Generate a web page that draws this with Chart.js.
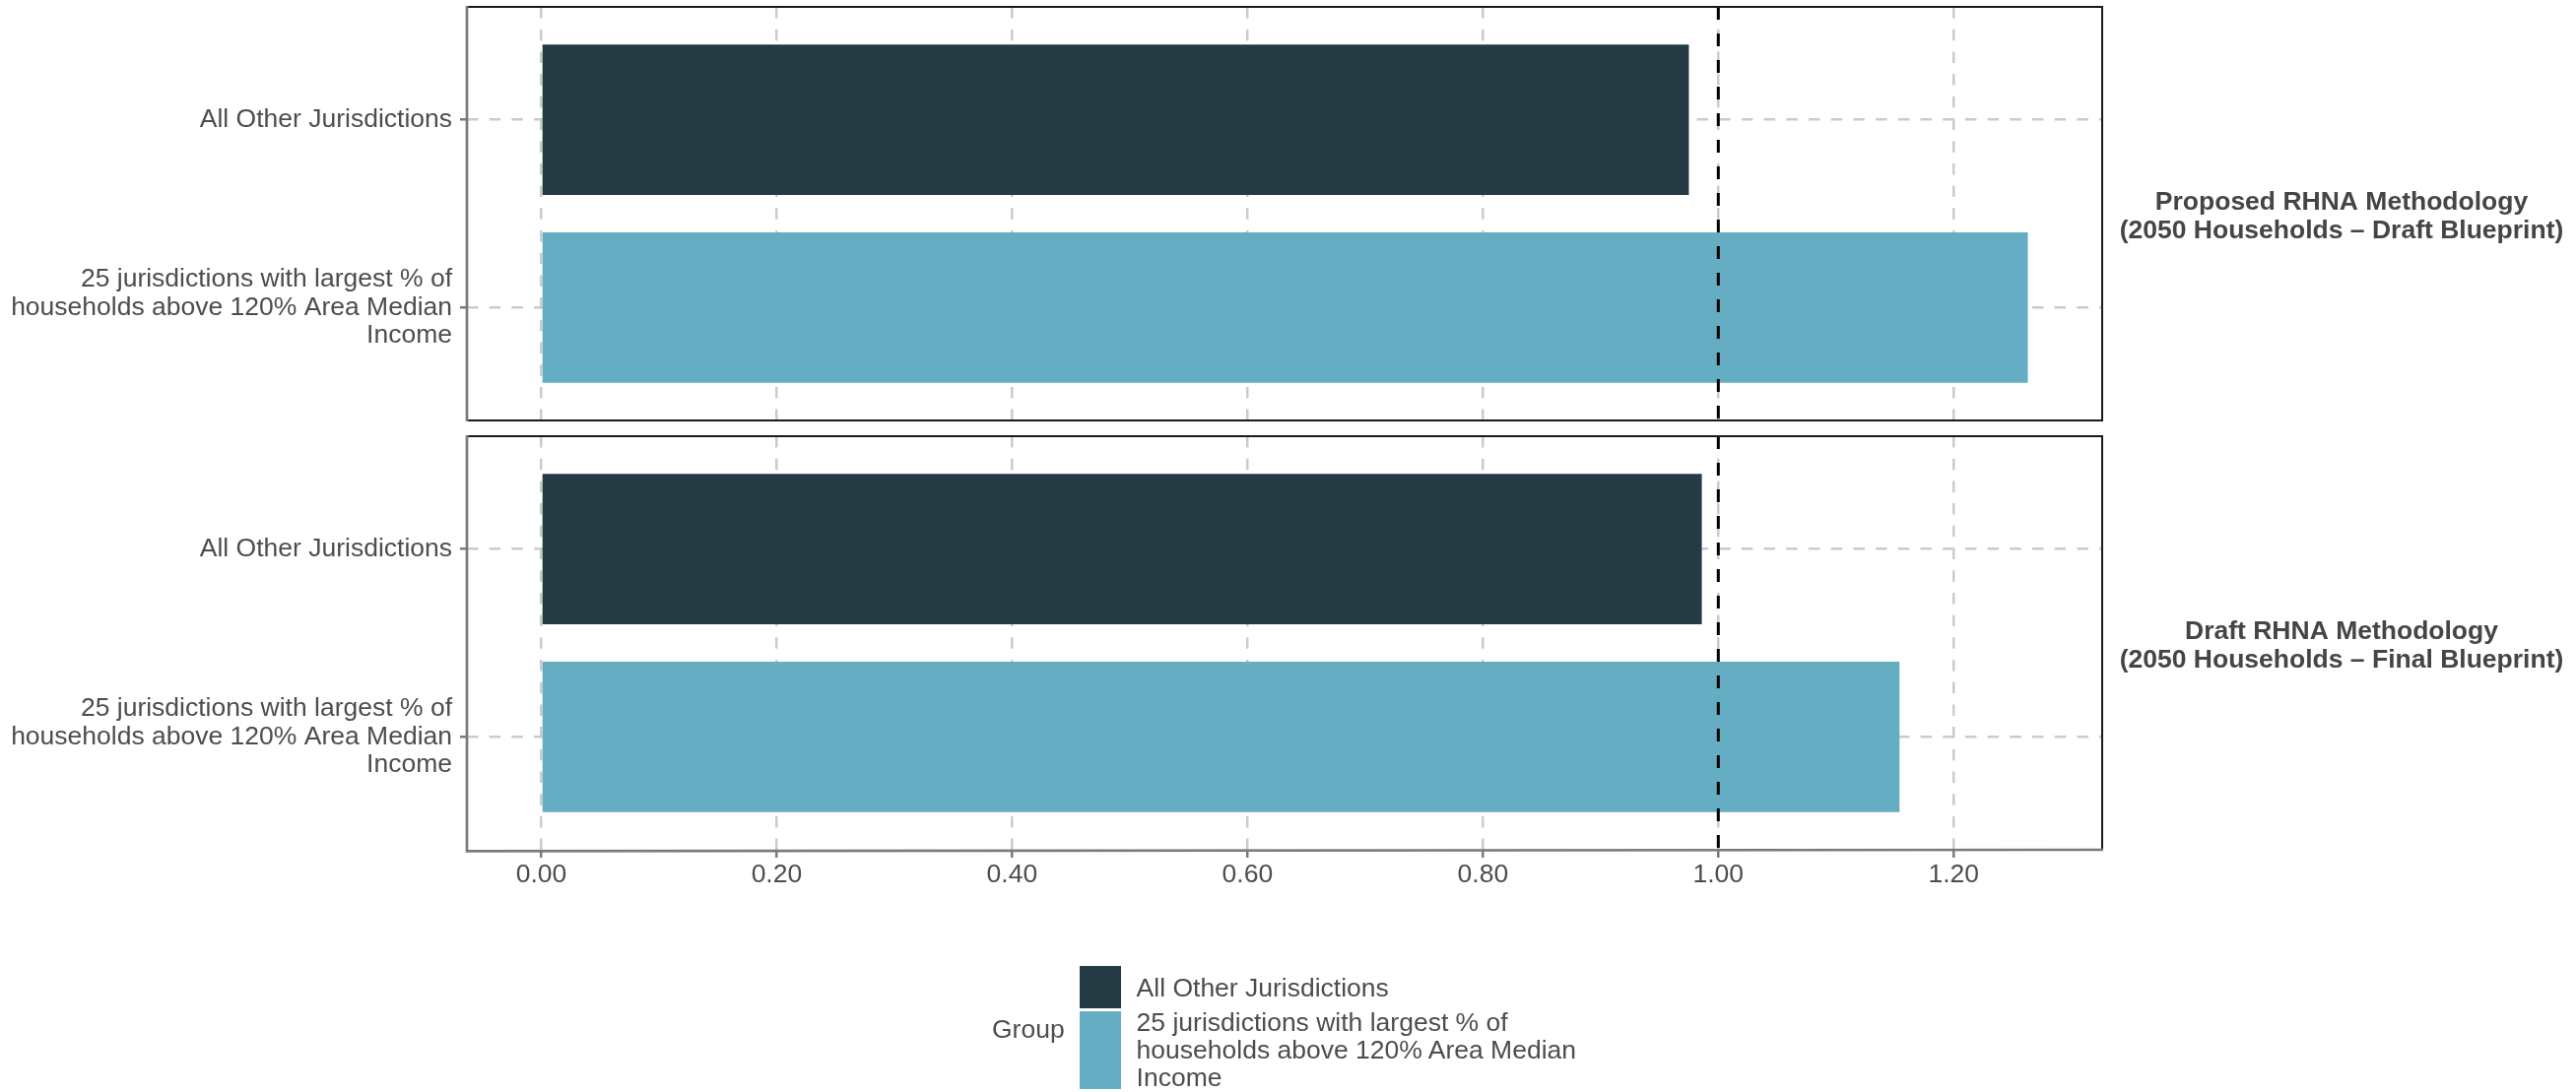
<!DOCTYPE html>
<html><head><meta charset="utf-8">
<script src="https://cdn.jsdelivr.net/npm/chart.js@4"></script>
<style>
html,body{margin:0;padding:0;background:#fff;width:2615px;height:1109px;overflow:hidden;}
#wrap{position:relative;width:2615px;height:1109px;background:#fff;}
canvas{position:absolute;left:0;top:0;}
.lg{position:absolute;font-family:'Liberation Sans',Arial,sans-serif;font-size:26.5px;line-height:28px;color:#4d4d4d;white-space:nowrap;}
.key{position:absolute;}
</style></head><body>
<div id="wrap">
<canvas id="c1" width="2615" height="1109"></canvas>
<canvas id="c2" width="2615" height="1109"></canvas>
<div id="legend"></div>
</div>
<script>
// ---- data ----
const groupLabels = [
  ['All Other Jurisdictions'],
  ['25 jurisdictions with largest % of', 'households above 120% Area Median', 'Income']
];
const groupColors = ['#243B44', '#65ADC3'];
const panelTitles = [
  ['Proposed RHNA Methodology', '(2050 Households – Draft Blueprint)'],
  ['Draft RHNA Methodology', '(2050 Households – Final Blueprint)']
];
const proposedValues = [0.975, 1.263];
const draftValues = [0.986, 1.154];
const xTickValues = [0, 0.2, 0.4, 0.6, 0.8, 1.0, 1.2];
const xTickLabels = ['0.00', '0.20', '0.40', '0.60', '0.80', '1.00', '1.20'];
const referenceValue = 1.0;
const legendTitle = 'Group';

// ---- layout ----
const W = 2615, H = 1109;
const FONT = "'Liberation Sans', Arial, sans-serif";
const allVals = proposedValues.concat(draftValues);
const dataMax = Math.max(...allVals);
const xMin = -0.05 * dataMax, xMax = dataMax * 1.05;
const AXIS_GRAY = '#7a7a7a';
const GRID = '#cbcbcb';

const refLinePlugin = {
  id: 'refLine',
  afterDatasetsDraw(chart) {
    const {ctx, chartArea, scales} = chart;
    const x = scales.x.getPixelForValue(referenceValue);
    ctx.save();
    ctx.strokeStyle = '#000';
    ctx.lineWidth = 3;
    ctx.setLineDash([13, 14]);
    ctx.beginPath();
    ctx.moveTo(x, chartArea.top);
    ctx.lineTo(x, chartArea.bottom);
    ctx.stroke();
    ctx.restore();
  }
};

const framePlugin = {
  id: 'frame',
  afterDraw(chart, args, opts) {
    const {ctx, chartArea: a} = chart;
    ctx.save();
    ctx.setLineDash([]);
    ctx.strokeStyle = '#1a1a1a';
    ctx.lineWidth = 2;
    ctx.beginPath();
    ctx.moveTo(a.left, a.top); ctx.lineTo(a.right, a.top); ctx.lineTo(a.right, a.bottom);
    if (!opts.bottomAxis) ctx.lineTo(a.left, a.bottom);
    ctx.stroke();
    ctx.strokeStyle = AXIS_GRAY;
    ctx.lineWidth = 2.7;
    ctx.beginPath();
    ctx.moveTo(a.left, a.top - 1); ctx.lineTo(a.left, a.bottom + (opts.bottomAxis ? 1.3 : 1));
    if (opts.bottomAxis) { ctx.lineTo(a.right + 1, a.bottom); }
    ctx.stroke();
    // strip label
    const lines = opts.title;
    ctx.fillStyle = '#454545';
    ctx.font = 'bold 26.5px ' + FONT;
    ctx.textAlign = 'center';
    ctx.textBaseline = 'middle';
    const cx = 2377, cy = (a.top + a.bottom) / 2 + 3.5;
    const lh = 29;
    lines.forEach((t, i) => ctx.fillText(t, cx, cy + (i - (lines.length - 1) / 2) * lh));
    ctx.restore();
  }
};

function zeroPad(s) { s.paddingTop = 0; s.paddingBottom = 0; s.paddingLeft = 0; s.paddingRight = 0; }

function makeChart(id, values, title, showX, top, bottom) {
  const xAxisH = showX ? 60 : 0;
  return new Chart(document.getElementById(id), {
    type: 'bar',
    data: {
      datasets: [{
        data: values.map((v, i) => ({x: v, y: i + 1})),
        backgroundColor: groupColors,
        borderWidth: 0,
        barPercentage: 0.8,
        categoryPercentage: 1.0
      }]
    },
    options: {
      indexAxis: 'y',
      responsive: false,
      animation: false,
      devicePixelRatio: 1,
      layout: {padding: {left: 0, right: W - 2134, top: top, bottom: H - bottom - xAxisH}},
      plugins: {legend: {display: false}, tooltip: {enabled: false}, frame: {title: title, bottomAxis: showX}},
      scales: {
        x: {
          type: 'linear', min: xMin, max: xMax, offset: false,
          afterBuildTicks: s => { s.ticks = xTickValues.map(v => ({value: v})); },
          afterFit: s => { s.height = xAxisH; zeroPad(s); },
          grid: {offset: false, color: GRID, lineWidth: 2.5, drawTicks: showX, tickLength: 8, tickColor: AXIS_GRAY, tickWidth: 2.5, tickBorderDash: []},
          border: {display: false, dash: [11.5, 11.2]},
          ticks: {display: showX, padding: 2, color: '#4d4d4d', font: {family: FONT, size: 26.5, lineHeight: 1.2},
                  maxRotation: 0, autoSkip: false,
                  callback: (v, i) => xTickLabels[i]}
        },
        y: {
          type: 'linear', min: 0.4, max: 2.6, reverse: true, offset: false,
          afterBuildTicks: s => { s.ticks = groupLabels.map((g, i) => ({value: i + 1})); },
          afterFit: s => { s.width = 474; zeroPad(s); },
          grid: {offset: false, color: GRID, lineWidth: 2.5, drawTicks: true, tickLength: 7, tickColor: AXIS_GRAY, tickWidth: 2.5, tickBorderDash: []},
          border: {display: false, dash: [11.5, 11.2]},
          ticks: {padding: 8, color: '#4d4d4d', font: {family: FONT, size: 26.5, lineHeight: 28.3 / 26.5},
                  autoSkip: false,
                  callback: (v, i) => groupLabels[i]}
        }
      }
    },
    plugins: [refLinePlugin, framePlugin]
  });
}

makeChart('c1', proposedValues, panelTitles[0], false, 7, 427);
makeChart('c2', draftValues, panelTitles[1], true, 443, 863);

// ---- legend ----
const lg = document.getElementById('legend');
const t = document.createElement('div');
t.className = 'lg'; t.textContent = legendTitle;
t.style.left = '1007px'; t.style.top = (1045 - 14) + 'px';
lg.appendChild(t);
let keyTop = 981;
groupLabels.forEach((lines, i) => {
  const h = lines.length === 1 ? 43 : lines.length * 26.3;
  const k = document.createElement('div');
  k.className = 'key';
  k.style.left = '1096px'; k.style.width = '42px';
  k.style.top = keyTop + 'px'; k.style.height = h + 'px';
  k.style.background = groupColors[i];
  lg.appendChild(k);
  const d = document.createElement('div');
  d.className = 'lg';
  d.innerHTML = lines.map(s => s.replace(/&/g, '&amp;').replace(/</g, '&lt;')).join('<br>');
  d.style.left = '1153.6px';
  d.style.top = (keyTop + h / 2 - lines.length * 14) + 'px';
  lg.appendChild(d);
  keyTop += h + 3;
});
</script>
</body></html>
